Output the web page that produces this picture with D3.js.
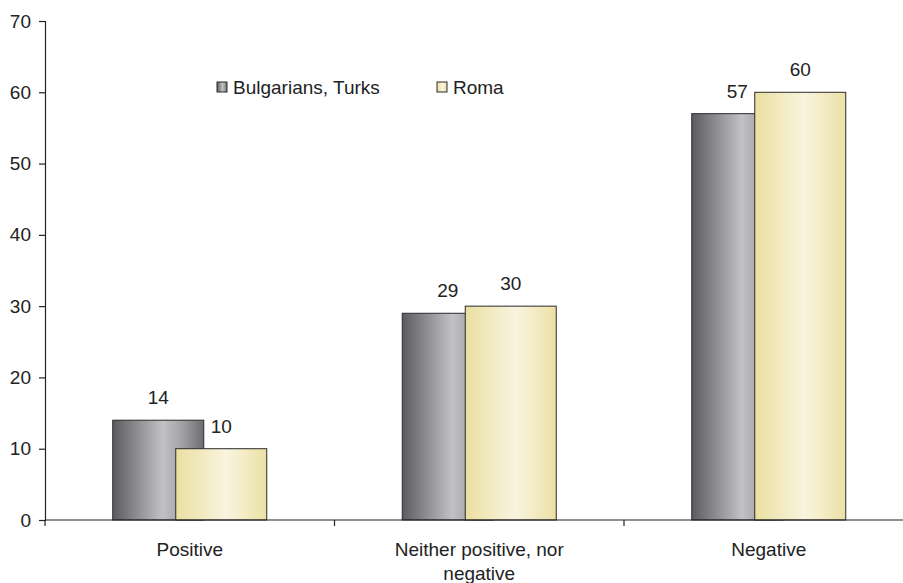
<!DOCTYPE html>
<html>
<head>
<meta charset="utf-8">
<script src="https://cdn.jsdelivr.net/npm/d3@7"></script>
<style>
  html, body { margin: 0; padding: 0; background: #fff; }
  svg { display: block; font-family: "Liberation Sans", Arial, Helvetica, sans-serif; }
</style>
</head>
<body>
<svg id="chart" width="903" height="583"></svg>
<script>
// Attitude categories and shares (%) by group
const categories = ["Positive", "Neither positive, nor negative", "Negative"];
const seriesNames = ["Bulgarians, Turks", "Roma"];
const bulgariansTurks = [14, 29, 57];
const roma = [10, 30, 60];
const yTicks = [0, 10, 20, 30, 40, 50, 60, 70];

(function () {
  const svg = d3.select("#chart");
  const defs = svg.append("defs");
  const fontSize = 19;

  // Cylinder-like horizontal shading for each series
  const gradStops = [
    [["0%", "#5c5c60"], ["55%", "#c2c2c6"], ["75%", "#a3a3a8"], ["100%", "#6e6e72"]],
    [["0%", "#ebdfa0"], ["55%", "#f8f4df"], ["75%", "#f3ecc6"], ["100%", "#ebe0a4"]]
  ];
  gradStops.forEach((stops, i) => {
    const g = defs.append("linearGradient").attr("id", "grad" + i)
      .attr("x1", "0%").attr("x2", "100%").attr("y1", "0%").attr("y2", "0%");
    stops.forEach(([o, c]) => g.append("stop").attr("offset", o).attr("stop-color", c));
  });

  const plotLeft = 45, plotTop = 21, plotBottom = 520, bandWidth = 289.5;
  const x = d3.scaleBand().domain(categories)
    .range([plotLeft, plotLeft + bandWidth * categories.length]).padding(0);
  const y = d3.scaleLinear().domain([0, 70]).range([plotBottom, plotTop]);

  const barW = 91, offset = 63;
  const series = [bulgariansTurks, roma];

  // Bars: Roma drawn after so it overlaps the first series
  series.forEach((vals, si) => {
    const gx = svg.append("g");
    categories.forEach((c, ci) => {
      const cx = x(c) + x.bandwidth() / 2;
      const bx = cx - (barW + offset) / 2 + si * offset;
      gx.append("rect")
        .attr("x", bx).attr("y", y(vals[ci]))
        .attr("width", barW).attr("height", y(0) - y(vals[ci]))
        .attr("fill", `url(#grad${si})`)
        .attr("stroke", "#2a2a2a").attr("stroke-width", 1);
      gx.append("text")
        .attr("x", bx + barW / 2).attr("y", y(vals[ci]) - 16)
        .attr("text-anchor", "middle").attr("font-size", fontSize).attr("fill", "#222")
        .text(vals[ci]);
    });
  });

  // Y axis
  const yAxis = svg.append("g").attr("transform", `translate(${plotLeft},0)`)
    .call(d3.axisLeft(y).tickValues(yTicks).tickSize(6).tickPadding(8));
  yAxis.select(".domain").attr("stroke", "#222").attr("stroke-width", 1.2);
  yAxis.selectAll(".tick line").attr("stroke", "#222").attr("stroke-width", 1.2);
  yAxis.selectAll("text").attr("font-size", fontSize).attr("fill", "#222")
    .attr("font-family", "'Liberation Sans', Arial, sans-serif");

  // X axis: line with ticks at band boundaries
  const xAxis = svg.append("g");
  xAxis.append("line").attr("x1", plotLeft).attr("x2", 903)
    .attr("y1", plotBottom).attr("y2", plotBottom).attr("stroke", "#222").attr("stroke-width", 1.2);
  const bounds = categories.map(c => x(c)).concat([x.range()[1]]);
  bounds.forEach(b => {
    xAxis.append("line").attr("x1", b).attr("x2", b)
      .attr("y1", plotBottom).attr("y2", plotBottom + 6).attr("stroke", "#222").attr("stroke-width", 1.2);
  });
  const catLines = [["Positive"], ["Neither positive, nor", "negative"], ["Negative"]];
  categories.forEach((c, i) => {
    const t = xAxis.append("text")
      .attr("x", x(c) + x.bandwidth() / 2).attr("y", 556)
      .attr("text-anchor", "middle").attr("font-size", fontSize).attr("fill", "#222");
    catLines[i].forEach((ln, k) => {
      t.append("tspan").attr("x", x(c) + x.bandwidth() / 2).attr("dy", k === 0 ? 0 : 24).text(ln);
    });
  });

  // Legend
  const legendPos = [217, 437];
  seriesNames.forEach((name, i) => {
    const lg = svg.append("g").attr("transform", `translate(${legendPos[i]},82)`);
    lg.append("rect").attr("x", 0).attr("y", 0).attr("width", 10).attr("height", 10)
      .attr("fill", `url(#grad${i})`).attr("stroke", "#2a2a2a").attr("stroke-width", 1);
    lg.append("text").attr("x", 16).attr("y", 12).attr("font-size", fontSize).attr("fill", "#222")
      .text(name);
  });
})();
</script>
</body>
</html>
